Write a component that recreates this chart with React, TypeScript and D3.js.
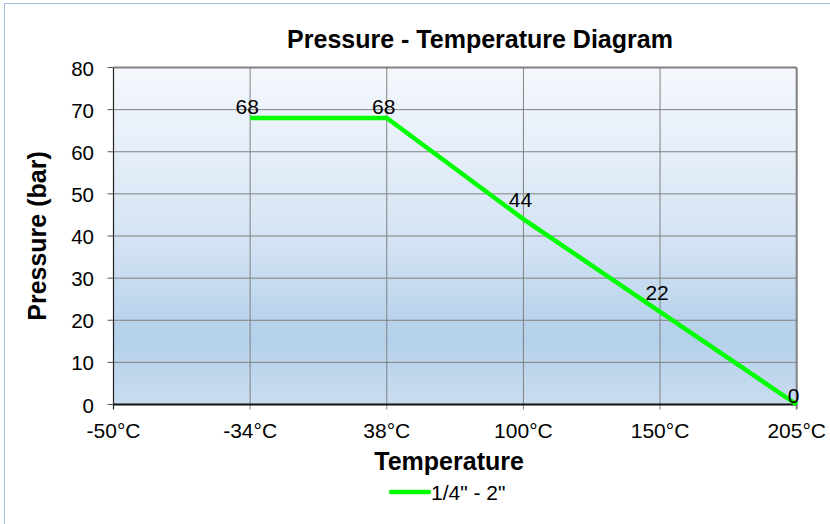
import * as d3 from 'd3';

const categories = ['-50°C', '-34°C', '38°C', '100°C', '150°C', '205°C'];
const pressure: (number | null)[] = [null, 68, 68, 44, 22, 0];
const yTicks = [0, 10, 20, 30, 40, 50, 60, 70, 80];
const seriesName = '1/4" - 2"';
// vertical nudge of each data label (px above the point)
const labelLift = [0, 4, 4, 12, 12, 1.5];

const W = 830;
const H = 524;
const FONT = '"Liberation Sans", Arial, sans-serif';
const plot = { left: 113.5, right: 796.7, top: 67.5, bottom: 404.5 };

export default function App() {
  const x = d3.scalePoint<string>().domain(categories).range([plot.left, plot.right]);
  const y = d3.scaleLinear().domain([0, 80]).range([plot.bottom, plot.top]);

  const pts = categories
    .map((c, i) => ({ c, v: pressure[i], i }))
    .filter(d => d.v !== null) as { c: string; v: number; i: number }[];

  const line = d3.line<{ c: string; v: number }>()
    .x(d => x(d.c)!)
    .y(d => y(d.v));

  const cx = (plot.left + plot.right) / 2;

  return (
    <svg width={W} height={H} style={{ position: 'absolute', left: 0, top: 0, display: 'block' }} fontFamily={FONT}>
      <defs>
        <linearGradient id="bg" x1="0" y1="0" x2="0" y2="1">
          <stop offset="0" stopColor="#f5f8fd" />
          <stop offset="0.5" stopColor="#d5e4f4" />
          <stop offset="0.8" stopColor="#b4d0ea" />
          <stop offset="1" stopColor="#c9dcf0" />
        </linearGradient>
      </defs>
      <rect x={0} y={0} width={W} height={H} fill="#fff" />
      <rect x={4.5} y={3.5} width={W} height={H} fill="none" stroke="#a9b9e2" />

      <text x={480} y={48} textAnchor="middle" fontSize={25} fontWeight="bold">
        Pressure - Temperature Diagram
      </text>

      <rect x={plot.left} y={plot.top} width={plot.right - plot.left} height={plot.bottom - plot.top} fill="url(#bg)" />

      {/* horizontal grid */}
      {yTicks.filter(t => t > 0).map(t => (
        <line key={'h' + t} x1={plot.left} x2={plot.right} y1={y(t)} y2={y(t)} stroke="#808080" strokeWidth={t === 80 ? 2 : 1} />
      ))}
      {/* vertical grid */}
      {categories.slice(1).map((c, i) => (
        <line key={'v' + c} x1={x(c)} x2={x(c)} y1={plot.top} y2={plot.bottom + 5} stroke="#808080" strokeWidth={i === categories.length - 2 ? 2 : 1} />
      ))}

      {/* axes */}
      <line x1={plot.left} x2={plot.left} y1={plot.top} y2={plot.bottom + 5} stroke="#222" strokeWidth={1.2} />
      <line x1={plot.left} x2={plot.right} y1={plot.bottom} y2={plot.bottom} stroke="#111" strokeWidth={1.8} />
      {yTicks.map(t => (
        <g key={'yt' + t}>
          <line x1={plot.left - 6} x2={plot.left} y1={y(t)} y2={y(t)} stroke="#555" />
          <text x={94} y={y(t) + 8} textAnchor="end" fontSize={20.5}>{t}</text>
        </g>
      ))}
      {categories.map(c => (
        <text key={'xt' + c} x={x(c)} y={438} textAnchor="middle" fontSize={21}>{c}</text>
      ))}

      <path d={line(pts) ?? ''} fill="none" stroke="#00ff00" strokeWidth={4.5} strokeLinejoin="miter" />

      {pts.map(d => (
        <text key={'lb' + d.i} x={x(d.c)! - 3} y={y(d.v) - labelLift[d.i]} textAnchor="middle" fontSize={21}>
          {d.v}
        </text>
      ))}

      <text x={cx - 6} y={470} textAnchor="middle" fontSize={25} fontWeight="bold">Temperature</text>
      <text transform={`translate(46,${(plot.top + plot.bottom) / 2}) rotate(-90)`} textAnchor="middle" fontSize={25} fontWeight="bold">
        Pressure (bar)
      </text>

      <line x1={391} x2={429} y1={492} y2={492} stroke="#00ff00" strokeWidth={4.5} strokeLinecap="round" />
      <text x={431} y={500} fontSize={21}>{seriesName}</text>
    </svg>
  );
}
